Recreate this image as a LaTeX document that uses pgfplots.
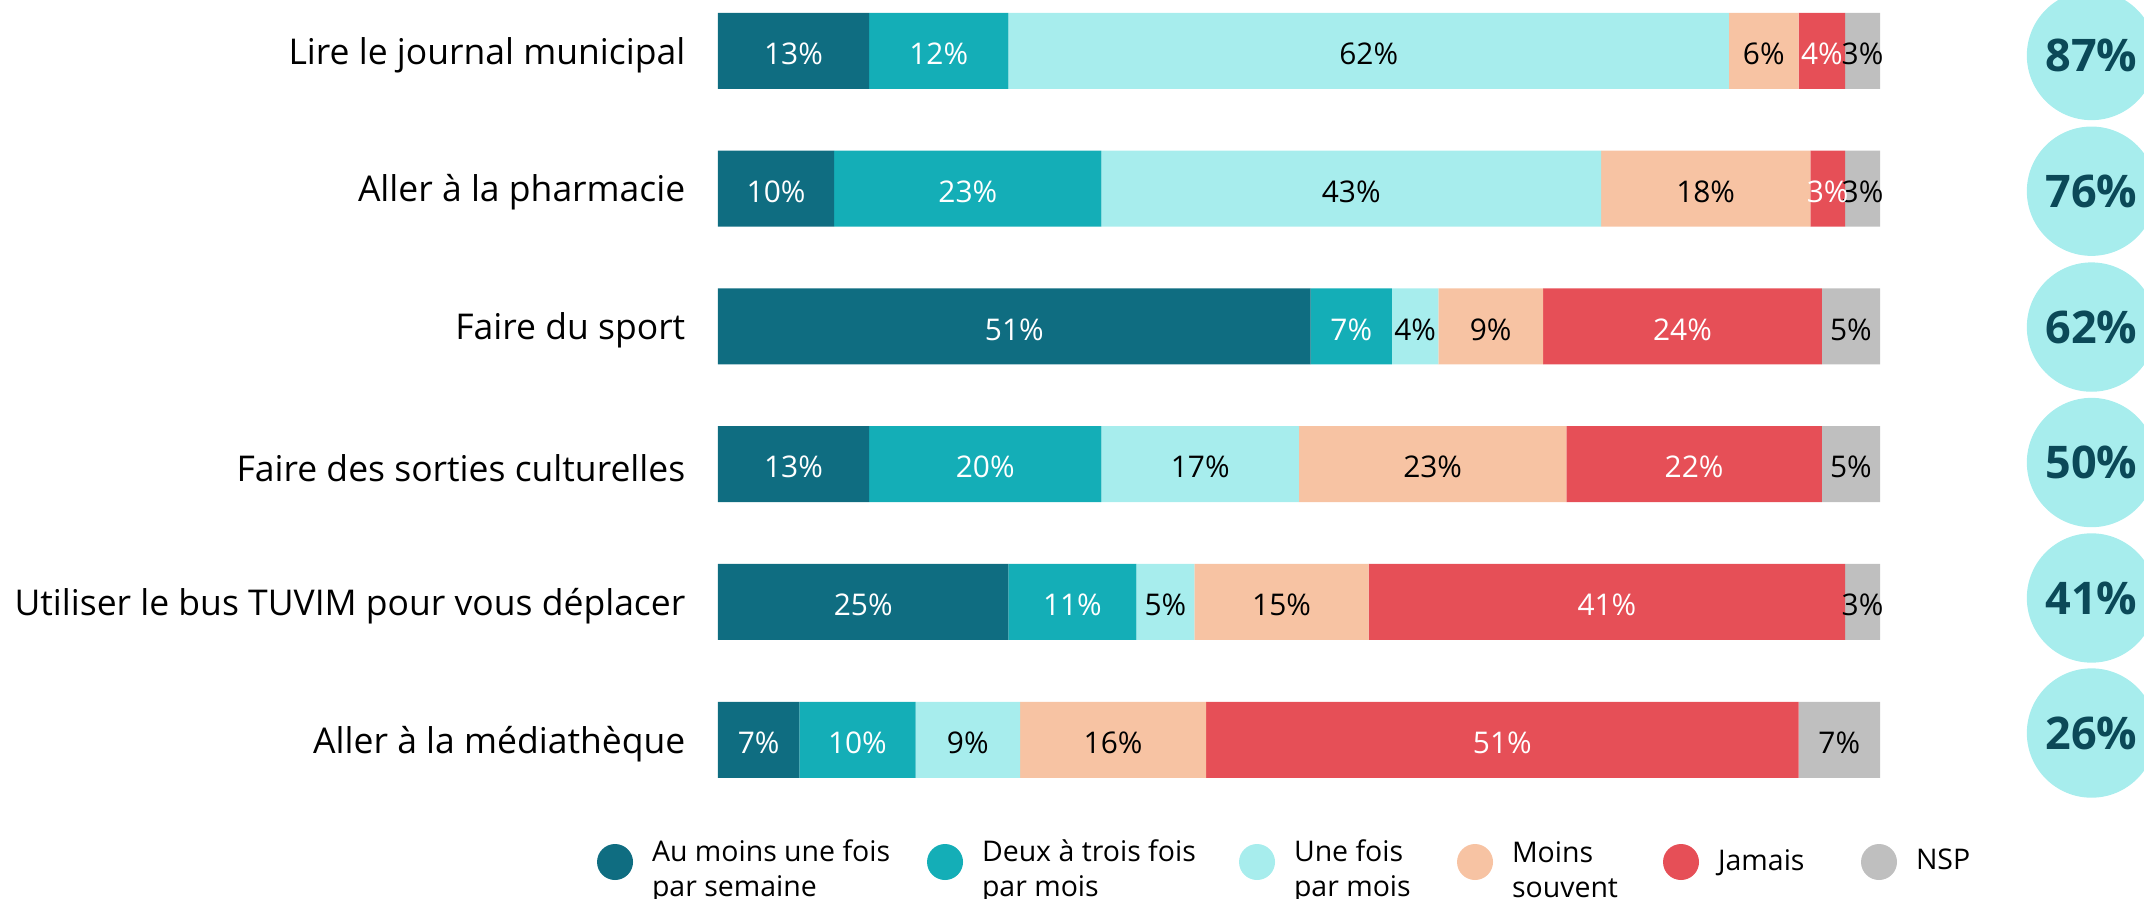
\documentclass[border=0pt]{standalone}
\usepackage{fontspec}
\setmainfont{Open Sans}
\usepackage{pgfplots}
\usepackage{pgfplotstable}
\pgfplotsset{compat=1.18}

\definecolor{c1}{HTML}{0F6D81}
\definecolor{c2}{HTML}{14AEB7}
\definecolor{c3}{HTML}{A7EDED}
\definecolor{c4}{HTML}{F7C3A3}
\definecolor{c5}{HTML}{E64F57}
\definecolor{c6}{HTML}{BFBFBF}
\definecolor{circtxt}{HTML}{0B4958}

% row 1 = top bar
\pgfplotstableread{
row a b c d e f
1 13 12 62 6 4 3
2 10 23 43 18 3 3
3 51 7 4 9 24 5
4 13 20 17 23 22 5
5 25 11 5 15 41 3
6 7 10 9 16 51 7
}\shares

% totals shown in the circles on the right
\pgfplotstableread{
row pos total
1.034 118.2 87
2.019 118.2 76
3.005 118.2 62
3.988 118.2 50
4.971 118.2 41
5.951 118.2 26
}\totals

% one stacked segment: fill colour, label colour
\pgfplotsset{seg/.style 2 args={fill=#1, draw=none,
  nodes near coords style={text=#2}}}

\begin{document}
\begin{tikzpicture}[x=1cm,y=1cm]
\begin{axis}[
  at={(7.18cm,0.903cm)}, anchor=south west,
  scale only axis, width=11.62cm, height=8.268cm,
  xbar stacked, bar width=0.76cm,
  xmin=0, xmax=100, ymin=0.5, ymax=6.5, y dir=reverse,
  axis line style={draw=none}, tick style={draw=none},
  xtick=\empty, ytick={1,...,6},
  yticklabels={Lire le journal municipal, Aller à la pharmacie, Faire du sport,
    Faire des sorties culturelles, Utiliser le bus TUVIM pour vous déplacer,
    Aller à la médiathèque},
  yticklabel style={font=\fontsize{10.1}{12}\selectfont, anchor=east, inner sep=0pt,
    xshift=-0.32cm, yshift=-0.04cm},
  /pgf/number format/assume math mode=true,
  point meta=explicit,
  nodes near coords={\pgfmathprintnumber{\pgfplotspointmeta}\%},
  every node near coord/.append style={anchor=center, inner sep=0pt,
    font=\fontsize{8.5}{10}\selectfont, yshift=-0.03cm},
  clip=false,
  legend columns=6,
  legend style={at={(-0.1041,-0.0645)}, anchor=west, draw=none, fill=none,
    inner sep=0pt, outer sep=0pt, font=\fontsize{8.1}{9.7}\selectfont,
    nodes={inner sep=0pt},
    /tikz/every odd column/.append style={column sep=0.19cm}},
  legend image code/.code={\fill[#1] (0.18cm,0cm) circle (0.18cm);},
]
\addplot[seg={c1}{white}] table[x=a, y=row, meta=a] {\shares};
\addplot[seg={c2}{white}] table[x=b, y=row, meta=b] {\shares};
\addplot[seg={c3}{black}] table[x=c, y=row, meta=c] {\shares};
\addplot[seg={c4}{black}] table[x=d, y=row, meta=d] {\shares};
\addplot[seg={c5}{white}] table[x=e, y=row, meta=e] {\shares};
\addplot[seg={c6}{black}] table[x=f, y=row, meta=f] {\shares};
\legend{\parbox{2.75cm}{Au moins une fois\\par semaine},
  \parbox{2.57cm}{Deux à trois fois\\par mois},
  \parbox{1.63cm}{Une fois\\par mois},
  \parbox{1.51cm}{Moins\\souvent},
  \parbox{1.43cm}{Jamais},
  NSP}
\end{axis}
\begin{axis}[
  at={(7.18cm,0.903cm)}, anchor=south west,
  scale only axis, width=11.62cm, height=8.268cm,
  xmin=0, xmax=100, ymin=0.5, ymax=6.5, y dir=reverse,
  hide axis, clip=false,
  /pgf/number format/assume math mode=true,
]
\addplot[only marks, mark=*, mark size=18.2pt, color=c3, fill=c3,
  point meta=explicit,
  nodes near coords={\pgfmathprintnumber{\pgfplotspointmeta}\%},
  nodes near coords style={anchor=center, inner sep=0pt, text=circtxt,
    font=\fontsize{12.8}{14}\selectfont\bfseries}]
  table[x=pos, y=row, meta=total] {\totals};
\end{axis}
\pgfresetboundingbox
\useasboundingbox (0,0) rectangle (21.44,8.99);
\end{tikzpicture}
\end{document}
